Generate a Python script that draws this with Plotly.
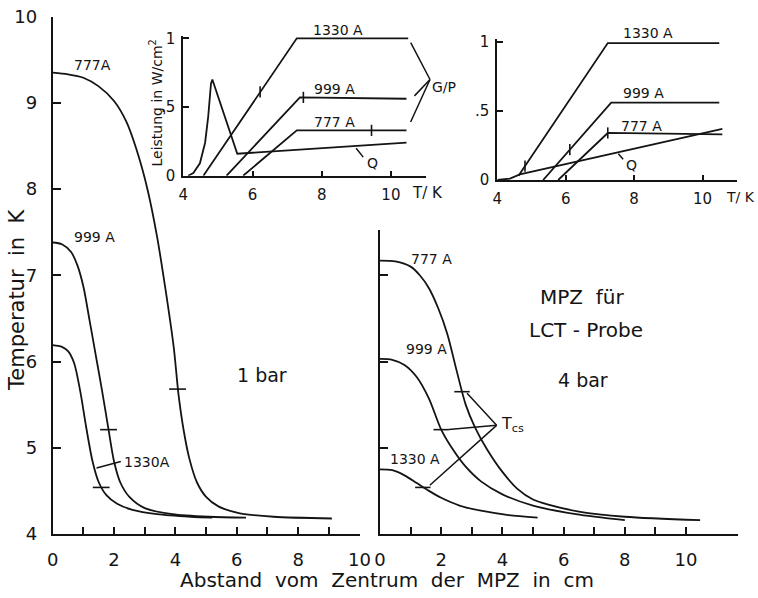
import plotly.graph_objects as go

W, H = 758, 598
FONT = "DejaVu Sans, sans-serif"
INK = "#141414"

# ---------------- data: main panels (distance cm, temperature K) ----------------
# 1 bar
d1_777 = [0, 0.5, 1.0, 1.5, 2.0, 2.4, 2.8, 3.1, 3.4, 3.7, 3.95, 4.1, 4.27, 4.45, 4.7, 5.0, 5.4, 6.1, 7.2, 9.1]
t1_777 = [9.35, 9.33, 9.29, 9.19, 9.02, 8.78, 8.38, 7.98, 7.45, 6.78, 6.15, 5.62, 5.20, 4.88, 4.60, 4.43, 4.32, 4.24, 4.20, 4.18]
d1_999 = [0, 0.3, 0.6, 0.8, 1.0, 1.2, 1.4, 1.6, 1.82, 2.0, 2.2, 2.5, 3.0, 3.9, 5.1, 6.3]
t1_999 = [7.38, 7.36, 7.27, 7.12, 6.87, 6.48, 6.08, 5.68, 5.21, 4.84, 4.60, 4.43, 4.30, 4.23, 4.20, 4.19]
d1_1330 = [0, 0.3, 0.5, 0.7, 0.9, 1.1, 1.3, 1.5, 1.75, 2.1, 2.6, 3.4, 4.5, 5.2]
t1_1330 = [6.19, 6.17, 6.12, 5.98, 5.65, 5.22, 4.84, 4.60, 4.45, 4.35, 4.28, 4.23, 4.20, 4.19]
tcs1_d = [4.07, 1.82, 1.58]
tcs1_t = [5.68, 5.21, 4.54]

# 4 bar
d4_777 = [0, 0.5, 1.0, 1.3, 1.6, 1.9, 2.2, 2.5, 2.8, 3.1, 3.5, 4.0, 4.5, 5.0, 5.5, 6.5, 8.0, 10.46]
t4_777 = [7.17, 7.16, 7.10, 7.00, 6.85, 6.62, 6.32, 5.90, 5.50, 5.24, 4.98, 4.72, 4.52, 4.40, 4.34, 4.26, 4.20, 4.16]
d4_999 = [0, 0.4, 0.8, 1.2, 1.6, 2.0, 2.4, 2.8, 3.3, 4.0, 5.0, 6.4, 8.0]
t4_999 = [6.03, 6.02, 5.96, 5.82, 5.57, 5.21, 4.97, 4.78, 4.61, 4.46, 4.33, 4.23, 4.16]
d4_1330 = [0, 0.4, 0.8, 1.2, 1.6, 2.0, 2.6, 3.3, 4.2, 5.15]
t4_1330 = [4.75, 4.74, 4.68, 4.59, 4.50, 4.42, 4.33, 4.27, 4.22, 4.19]
tcs4_d = [2.68, 2.0, 1.4]
tcs4_t = [5.65, 5.21, 4.54]

# ---------------- data: insets (T in K, power in W/cm2) ----------------
# 1 bar
q1_T = [4.14, 4.29, 4.48, 4.63, 4.72, 4.80, 4.84, 5.56, 10.45]
q1_P = [0.0, 0.02, 0.09, 0.24, 0.43, 0.67, 0.70, 0.16, 0.24]
g1_1330_T = [4.58, 7.28, 10.5]
g1_1330_P = [0.0, 1.0, 1.0]
g1_999_T = [5.25, 7.37, 10.45]
g1_999_P = [0.0, 0.57, 0.56]
g1_777_T = [5.73, 7.28, 10.45]
g1_777_P = [0.0, 0.33, 0.33]
mk1_T = [6.22, 7.47, 9.44]
mk1_P = [0.61, 0.57, 0.33]
# 4 bar
q4_T = [4.0, 4.37, 4.66, 10.58]
q4_P = [0.0, 0.01, 0.04, 0.37]
g4_1330_T = [4.62, 7.23, 10.49]
g4_1330_P = [0.03, 0.99, 0.99]
g4_999_T = [5.34, 7.33, 10.49]
g4_999_P = [0.0, 0.56, 0.56]
g4_777_T = [5.78, 7.23, 10.58]
g4_777_P = [0.0, 0.34, 0.33]
mk4_T = [4.81, 6.12, 7.23]
mk4_P = [0.10, 0.22, 0.34]

main_xticks = list(range(0, 11))
main_xtext = [str(v) if v % 2 == 0 else "" for v in main_xticks]
main_yticks = [4, 5, 6, 7, 8, 9, 10]
inset_xticks = [4, 6, 8, 10]
inset_yticks = [0, 0.5, 1]
inset_ytext = ["0", ".5", "1"]


def xd(a, b):
    return [a / W, b / W]


def yd(top, bottom):
    return [1 - bottom / H, 1 - top / H]


DOM = {
    "x": (xd(52.7, 359.5), [0, 10]),
    "y": (yd(16.5, 534), [4, 10]),
    "x2": (xd(380, 380 + 11.7 * 30.6), [0, 11.7]),
    "y2": (yd(534 - 3.52 * 86.25, 534), [4, 7.52]),
    "x3": (xd(183.3, 425.5), [4, 11]),
    "y3": (yd(175.7 - 1.02 * 137.4, 175.7), [0, 1.02]),
    "x4": (xd(497.3, 736.7), [4, 11]),
    "y4": (yd(180 - 1.02 * 138.3, 180), [0, 1.02]),
}


def to_paper(ax, v):
    dom, rng = DOM[ax]
    return dom[0] + (v - rng[0]) / (rng[1] - rng[0]) * (dom[1] - dom[0])


fig = go.Figure()


def curve(x, y, xa, ya, shape="spline"):
    fig.add_trace(go.Scatter(x=x, y=y, xaxis=xa, yaxis=ya, mode="lines",
                             line=dict(color=INK, width=1.8, shape=shape, smoothing=0.8),
                             showlegend=False, hoverinfo="skip"))


def marks(x, y, xa, ya, sym, size):
    fig.add_trace(go.Scatter(x=x, y=y, xaxis=xa, yaxis=ya, mode="markers",
                             marker=dict(symbol=sym, size=size, line=dict(color=INK, width=1.6)),
                             showlegend=False, hoverinfo="skip", cliponaxis=False))


curve(d1_777, t1_777, "x", "y")
curve(d1_999, t1_999, "x", "y")
curve(d1_1330, t1_1330, "x", "y")
marks(tcs1_d, tcs1_t, "x", "y", "line-ew", 12)

curve(d4_777, t4_777, "x2", "y2")
curve(d4_999, t4_999, "x2", "y2")
curve(d4_1330, t4_1330, "x2", "y2")
marks(tcs4_d, tcs4_t, "x2", "y2", "line-ew", 11)

curve(q1_T, q1_P, "x3", "y3", "linear")
curve(g1_1330_T, g1_1330_P, "x3", "y3", "linear")
curve(g1_999_T, g1_999_P, "x3", "y3", "linear")
curve(g1_777_T, g1_777_P, "x3", "y3", "linear")
marks(mk1_T, mk1_P, "x3", "y3", "line-ns", 8)

curve(q4_T, q4_P, "x4", "y4", "linear")
curve(g4_1330_T, g4_1330_P, "x4", "y4", "linear")
curve(g4_999_T, g4_999_P, "x4", "y4", "linear")
curve(g4_777_T, g4_777_P, "x4", "y4", "linear")
marks(mk4_T, mk4_P, "x4", "y4", "line-ns", 8)

axis_common = dict(showline=True, linecolor=INK, linewidth=2, showgrid=False, zeroline=False,
                   ticks="inside", tickcolor=INK, tickwidth=1.5, mirror=False, automargin=False,
                   tickfont=dict(family=FONT, size=18, color=INK))
inset_font = dict(family=FONT, size=15, color=INK)

fig.update_layout(
    xaxis=dict(axis_common, domain=DOM["x"][0], range=DOM["x"][1], anchor="y",
               tickmode="array", tickvals=main_xticks, ticktext=main_xtext, ticklen=7,
               ticklabelstandoff=8),
    yaxis=dict(axis_common, domain=DOM["y"][0], range=DOM["y"][1], anchor="x",
               tickmode="array", tickvals=main_yticks, ticklen=8, ticklabelstandoff=10),
    xaxis2=dict(axis_common, domain=DOM["x2"][0], range=DOM["x2"][1], anchor="y2",
                tickmode="array", tickvals=main_xticks, ticktext=main_xtext, ticklen=7,
                ticklabelstandoff=8),
    yaxis2=dict(axis_common, domain=DOM["y2"][0], range=DOM["y2"][1], anchor="x2",
                tickmode="array", tickvals=[5, 6, 7], showticklabels=False, ticklen=8),
    xaxis3=dict(axis_common, domain=DOM["x3"][0], range=DOM["x3"][1], anchor="y3",
                tickmode="array", tickvals=inset_xticks, ticklen=5,
                tickfont=inset_font, ticklabelstandoff=4),
    yaxis3=dict(axis_common, domain=DOM["y3"][0], range=DOM["y3"][1], anchor="x3",
                tickmode="array", tickvals=inset_yticks, ticktext=inset_ytext, ticklen=6,
                tickfont=inset_font, ticklabelstandoff=3),
    xaxis4=dict(axis_common, domain=DOM["x4"][0], range=DOM["x4"][1], anchor="y4",
                tickmode="array", tickvals=inset_xticks, ticklen=5,
                tickfont=inset_font, ticklabelstandoff=4),
    yaxis4=dict(axis_common, domain=DOM["y4"][0], range=DOM["y4"][1], anchor="x4",
                tickmode="array", tickvals=inset_yticks, ticktext=inset_ytext, ticklen=6,
                tickfont=inset_font, ticklabelstandoff=3),
    width=W, height=H, margin=dict(l=0, r=0, t=0, b=0, autoexpand=False),
    paper_bgcolor="white", plot_bgcolor="rgba(0,0,0,0)",
    showlegend=False,
)

ann = []


def text(x, y, s, xa, ya, size=14, xanchor="left", angle=0):
    ann.append(dict(x=to_paper(xa, x), y=to_paper(ya, y), xref="paper", yref="paper",
                    text=s, showarrow=False, xanchor=xanchor, yanchor="middle",
                    textangle=angle, font=dict(family=FONT, size=size, color=INK)))


def leader(x0, y0, x1, y1, xr, yr):
    ann.append(dict(x=x1, y=y1, ax=x0, ay=y0, xref=xr, yref=yr, axref=xr, ayref=yr,
                    text="", showarrow=True, arrowhead=0, arrowwidth=1.5, arrowcolor=INK,
                    standoff=0, startstandoff=0))


# main left
text(0.62, 9.44, "777A", "x", "y", 14)
text(0.62, 7.44, "999 A", "x", "y", 14)
text(2.25, 4.84, "1330A", "x", "y", 14)
leader(1.38, 4.76, 2.22, 4.84, "x", "y")
text(5.95, 5.84, "1 bar", "x", "y", 19)
# main right
text(0.95, 7.19, "777 A", "x2", "y2", 14)
text(0.8, 6.15, "999 A", "x2", "y2", 14)
text(0.25, 4.87, "1330 A", "x2", "y2", 14)
text(6.6, 6.75, "MPZ  für", "x2", "y2", 20, "center")
text(6.73, 6.36, "LCT - Probe", "x2", "y2", 20, "center")
text(6.62, 5.78, "4 bar", "x2", "y2", 19, "center")
text(3.9, 5.27, "T<sub>cs</sub>", "x2", "y2", 16)
leader(2.8, 5.65, 3.81, 5.26, "x2", "y2")
leader(2.2, 5.21, 3.81, 5.26, "x2", "y2")
leader(1.58, 4.55, 3.81, 5.26, "x2", "y2")
# inset 1
text(7.7, 1.06, "1330 A", "x3", "y3", 14)
text(7.72, 0.63, "999 A", "x3", "y3", 14)
text(7.72, 0.39, "777 A", "x3", "y3", 14)
text(9.24, 0.09, "Q", "x3", "y3", 14)
leader(8.96, 0.21, 9.2, 0.135, "x3", "y3")
text(11.12, 0.645, "G/P", "x3", "y3", 14)
leader(10.55, 0.98, 11.13, 0.70, "x3", "y3")
leader(10.64, 0.57, 11.13, 0.70, "x3", "y3")
leader(10.55, 0.38, 11.13, 0.70, "x3", "y3")
text(11.07, -0.125, "T/ K", "x3", "y3", 15, "center")
text(3.2, 0.53, "Leistung in W/cm<sup>2</sup>", "x3", "y3", 14, "center", -90)
# inset 2
text(7.62, 1.06, "1330 A", "x4", "y4", 14)
text(7.62, 0.63, "999 A", "x4", "y4", 14)
text(7.55, 0.39, "777 A", "x4", "y4", 14)
text(7.7, 0.11, "Q", "x4", "y4", 14)
leader(7.5, 0.20, 7.68, 0.15, "x4", "y4")
text(11.11, -0.12, "T/ K", "x4", "y4", 14, "center")

# axis titles
ann.append(dict(x=387 / W, y=1 - 580 / H, xref="paper", yref="paper", showarrow=False,
                text="Abstand  vom  Zentrum  der  MPZ  in  cm", xanchor="center", yanchor="middle",
                font=dict(family=FONT, size=20, color=INK)))
ann.append(dict(x=17 / W, y=1 - 300 / H, xref="paper", yref="paper", showarrow=False,
                text="Temperatur  in  K", xanchor="center", yanchor="middle", textangle=-90,
                font=dict(family=FONT, size=21, color=INK)))

fig.update_layout(annotations=ann)
fig.write_html("out.html")
